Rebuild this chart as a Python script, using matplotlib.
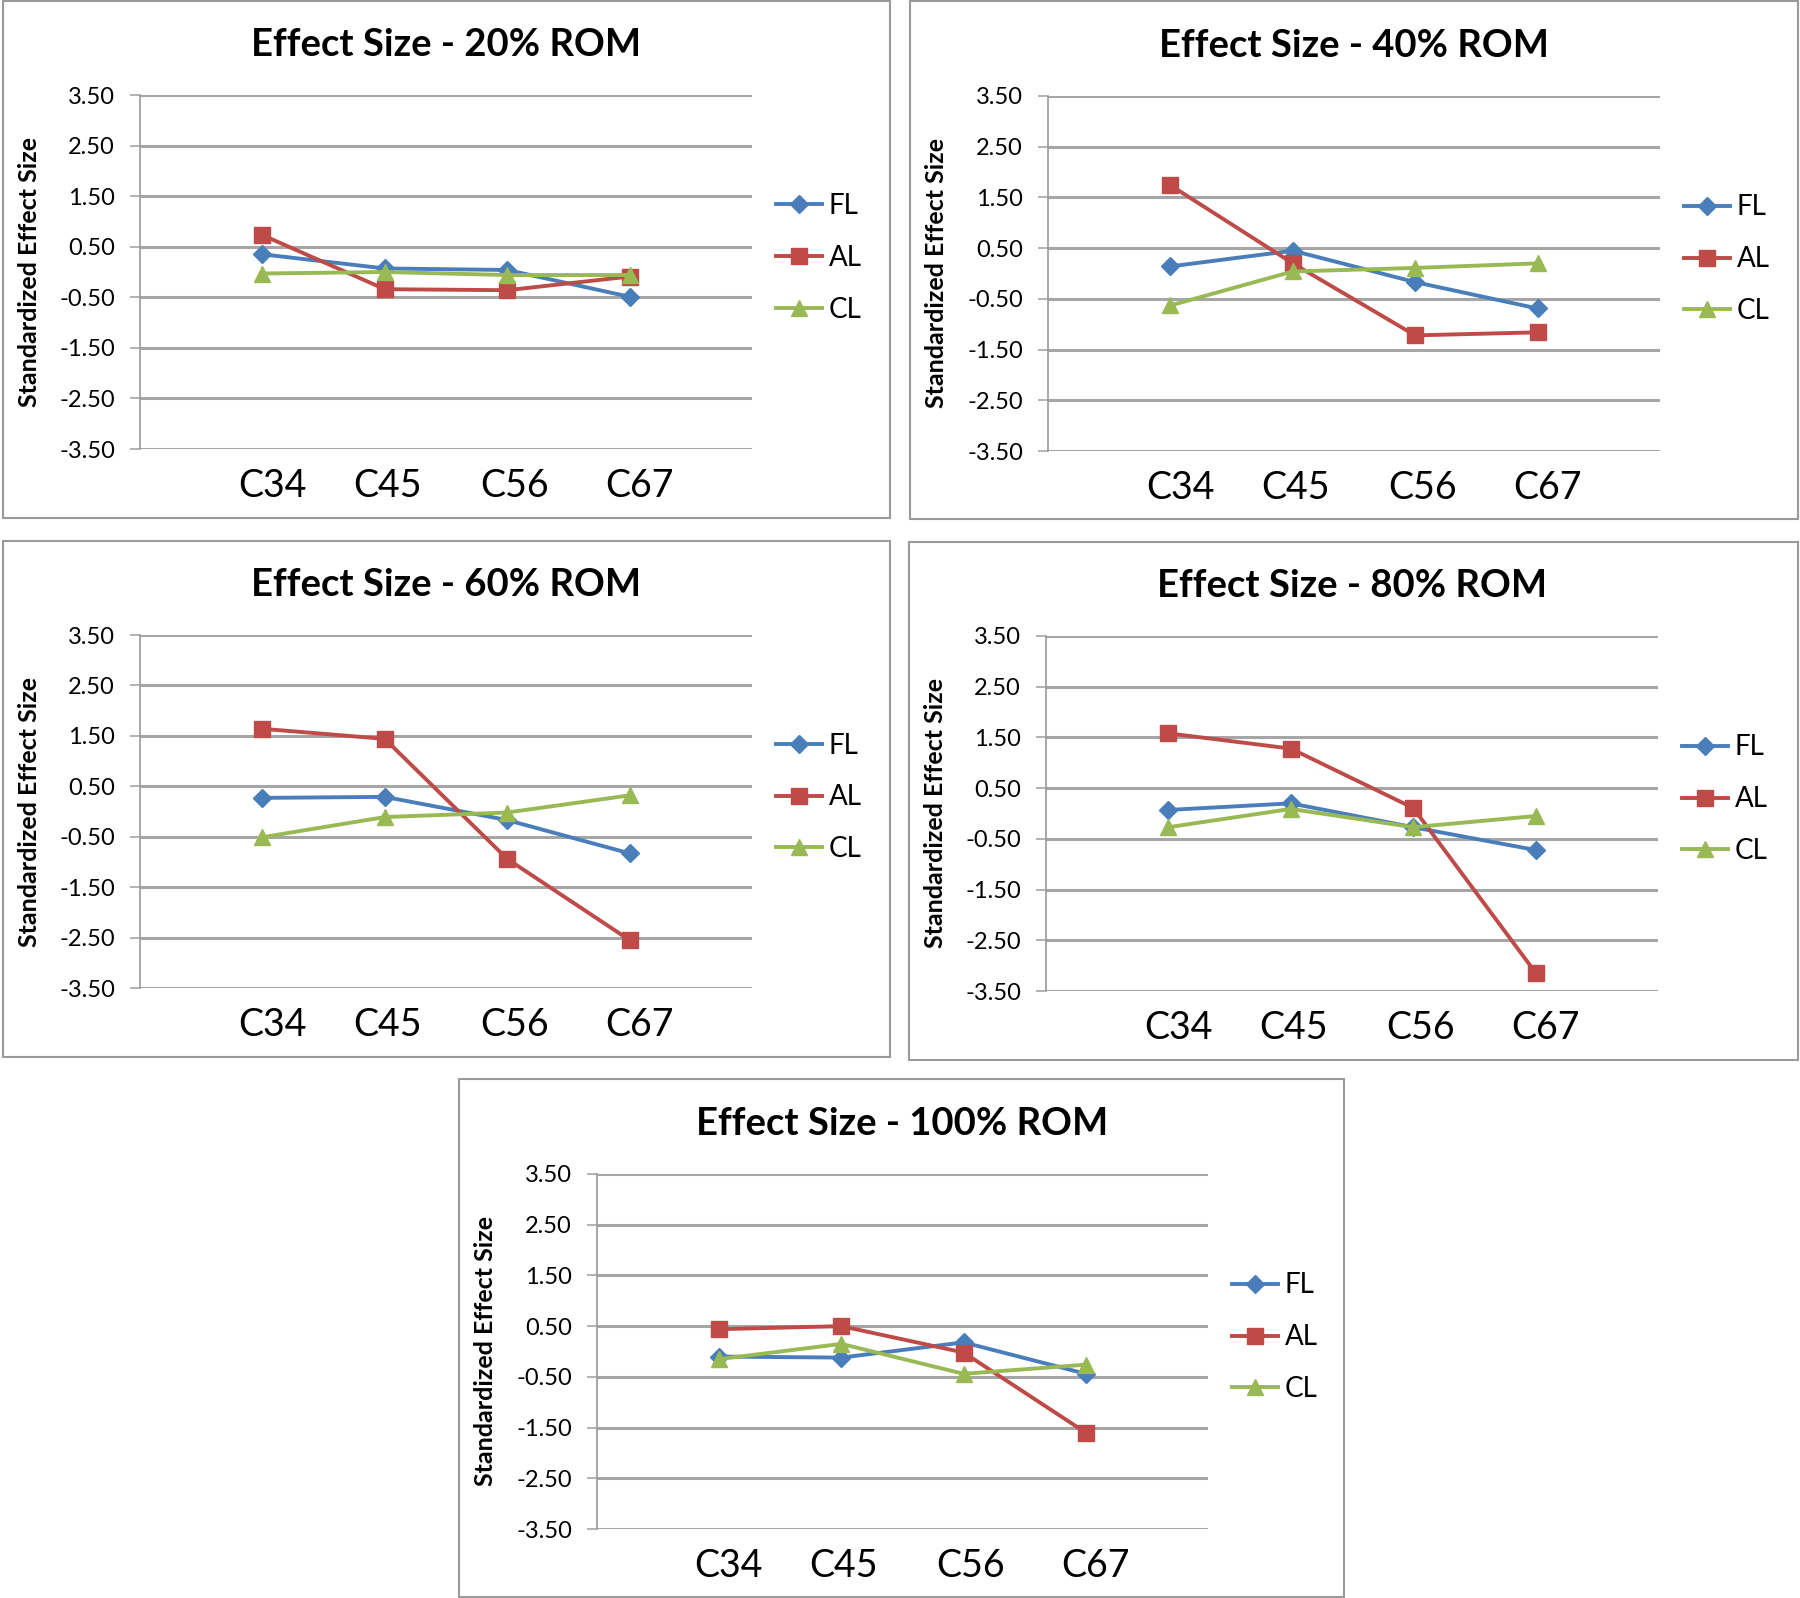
import matplotlib
matplotlib.use('Agg')
import matplotlib.pyplot as plt
from matplotlib.patches import Rectangle

plt.rcParams['font.family'] = ['Lato', 'DejaVu Sans']
plt.rcParams['axes.unicode_minus'] = False

# ---------------- data ----------------
categories = ['C34', 'C45', 'C56', 'C67']
series_names = ['FL', 'AL', 'CL']
titles = ['Effect Size - 20% ROM', 'Effect Size - 40% ROM', 'Effect Size - 60% ROM',
          'Effect Size - 80% ROM', 'Effect Size - 100% ROM']
ytick_values = [3.5, 2.5, 1.5, 0.5, -0.5, -1.5, -2.5, -3.5]
ytick_labels = ['3.50', '2.50', '1.50', '0.50', '-0.50', '-1.50', '-2.50', '-3.50']
ylabel = 'Standardized Effect Size'

fl_20 = [0.35, 0.07, 0.04, -0.49]
al_20 = [0.73, -0.34, -0.36, -0.09]
cl_20 = [-0.03, 0.00, -0.06, -0.06]

fl_40 = [0.14, 0.45, -0.17, -0.69]
al_40 = [1.74, 0.20, -1.22, -1.16]
cl_40 = [-0.63, 0.04, 0.11, 0.20]

fl_60 = [0.27, 0.29, -0.17, -0.83]
al_60 = [1.64, 1.44, -0.94, -2.55]
cl_60 = [-0.51, -0.11, -0.02, 0.32]

fl_80 = [0.07, 0.20, -0.27, -0.72]
al_80 = [1.58, 1.28, 0.11, -3.14]
cl_80 = [-0.27, 0.09, -0.27, -0.05]

fl_100 = [-0.10, -0.12, 0.18, -0.44]
al_100 = [0.44, 0.50, -0.02, -1.60]
cl_100 = [-0.15, 0.15, -0.44, -0.26]

panel_data = [
    (fl_20, al_20, cl_20),
    (fl_40, al_40, cl_40),
    (fl_60, al_60, cl_60),
    (fl_80, al_80, cl_80),
    (fl_100, al_100, cl_100),
]

# ---------------- styling ----------------
colors = ['#4A7EBB', '#BE4B48', '#98B954']
markers = ['D', 's', '^']
msizes = [9, 11, 12]

W, H = 1800, 1598
fig = plt.figure(figsize=(18, 15.98), dpi=100)

# (box left, box top, box right, box bottom), (axes left, top, right, bottom) in pixels
layout = [
    ((3, 1, 890, 518), (140, 95, 752, 449)),
    ((910, 1, 1798, 519), (1048, 96, 1660, 451)),
    ((3, 541, 890, 1057), (140, 635, 752, 988)),
    ((909, 542, 1798, 1060), (1046, 636, 1658, 991)),
    ((459, 1079, 1344, 1597), (597, 1174, 1208, 1529)),
]

x = list(range(len(categories)))
xtick_pos = [0.08, 1.02, 2.06, 3.08]

for (box, axp), title, data in zip(layout, titles, panel_data):
    bl, bt, br, bb = box
    fig.add_artist(Rectangle((bl / W, 1 - bb / H), (br - bl) / W, (bb - bt) / H,
                             transform=fig.transFigure, fill=False,
                             edgecolor='#9a9a9a', linewidth=1.5))
    al, at, ar, ab = axp
    ax = fig.add_axes([al / W, 1 - ab / H, (ar - al) / W, (ab - at) / H])
    aw, ah = ar - al, ab - at

    for vals, name, c, m, ms in zip(data, series_names, colors, markers, msizes):
        ax.plot(x, vals, color=c, marker=m, markersize=ms, linewidth=2.8,
                markeredgecolor=c, label=name, zorder=3)

    ax.set_xlim(-1.0, 4.0)
    ax.set_ylim(-3.5, 3.5)
    ax.set_yticks(ytick_values)
    ax.set_yticklabels(ytick_labels, fontsize=17)
    ax.set_xticks(xtick_pos)
    ax.set_xticklabels(categories, fontsize=27)
    ax.tick_params(axis='x', length=0, pad=14)
    ax.tick_params(axis='y', length=7, width=1.2, color='#a6a6a6', pad=11)
    ax.yaxis.grid(True, color='#a6a6a6', linewidth=2.2)
    ax.set_axisbelow(True)
    for s in ['top', 'right', 'bottom']:
        ax.spines[s].set_visible(False)
    ax.spines['left'].set_color('#9a9a9a')
    ax.spines['left'].set_linewidth(1.2)

    ax.set_ylabel(ylabel, fontsize=18, fontweight='bold')
    ax.yaxis.set_label_coords(-(al - (bl + 38)) / aw, 0.5)

    ax.set_title(title, fontsize=27.5, fontweight='bold', y=1 + 42 / ah, va='center')

    ax.legend(loc='center left', bbox_to_anchor=(1 + 24 / aw, 0.54), frameon=False,
              fontsize=20, handlelength=1.65, handletextpad=0.25, labelspacing=0.93,
              borderpad=0, borderaxespad=0, numpoints=1)

fig.savefig('out.png', dpi=100, facecolor='white')
